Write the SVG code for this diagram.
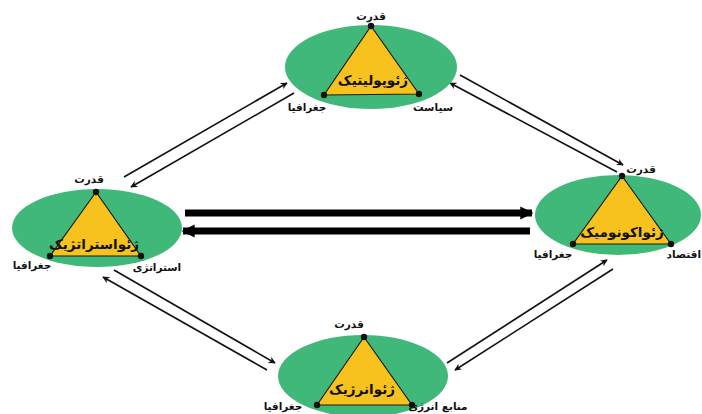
<svg xmlns="http://www.w3.org/2000/svg" width="702" height="414" viewBox="0 0 702 414">
<defs>
<style>
.ell{fill:#3fb87a}
.tri{fill:#f7c21e;stroke:#1a1a1a;stroke-width:1.2;stroke-linejoin:round}
.dot{fill:#111}
.title{font-family:"DejaVu Sans","Noto Sans",sans-serif;font-weight:bold;font-size:13.5px;fill:#111;text-anchor:middle}
.lbl{font-family:"DejaVu Sans","Noto Sans",sans-serif;font-weight:bold;font-size:10.5px;fill:#111;text-anchor:middle}
.thin{stroke:#111;stroke-width:1.6;fill:none;marker-end:url(#ah)}
.thick{stroke:#000;stroke-width:7;fill:none;marker-end:url(#ahb)}
</style>
<marker id="ah" viewBox="0 0 10 10" refX="9" refY="5" markerWidth="7" markerHeight="7" markerUnits="userSpaceOnUse" orient="auto"><path d="M0,0 L10,5 L0,10 L3,5 Z" fill="#111"/></marker>
<marker id="ahb" viewBox="0 0 10 10" refX="9" refY="5" markerWidth="13" markerHeight="14" markerUnits="userSpaceOnUse" orient="auto"><path d="M0,0 L10,5 L0,10 Z" fill="#000"/></marker>
</defs>
<rect width="702" height="414" fill="#fff"/>
<g id="connectors">
<line class="thin" x1="124" y1="177" x2="287" y2="83"/>
<line class="thin" x1="294" y1="93" x2="131" y2="187"/>
<line class="thin" x1="460" y1="75" x2="623" y2="165"/>
<line class="thin" x1="617" y1="172" x2="450" y2="83"/>
<line class="thick" x1="185" y1="213" x2="532" y2="213"/>
<line class="thick" x1="530" y1="231" x2="183" y2="231"/>
<line class="thin" x1="114" y1="270" x2="275" y2="363"/>
<line class="thin" x1="267" y1="370" x2="103" y2="277"/>
<line class="thin" x1="447" y1="363" x2="607" y2="260"/>
<line class="thin" x1="613" y1="269" x2="455" y2="370"/>
</g>
<g id="geopolitics">
<ellipse class="ell" cx="371" cy="67" rx="86" ry="42"/>
<polygon class="tri" points="371,26 324,95 419,94"/>
<circle class="dot" cx="371" cy="26" r="3.2"/><circle class="dot" cx="324" cy="95" r="3.2"/><circle class="dot" cx="419" cy="94" r="3.2"/>
<text class="title" x="373" y="85">ژئوپولیتیک</text>
<text class="lbl" x="371" y="20">قدرت</text>
<text class="lbl" x="307" y="111">جغرافیا</text>
<text class="lbl" x="433" y="111">سیاست</text>
</g>
<g id="geostrategy">
<ellipse class="ell" cx="97" cy="228" rx="85" ry="39"/>
<polygon class="tri" points="96,192 50,256 141,256"/>
<circle class="dot" cx="96" cy="192" r="3.2"/><circle class="dot" cx="50" cy="256" r="3.2"/><circle class="dot" cx="141" cy="256" r="3.2"/>
<text class="title" x="94" y="249">ژئواستراتژیک</text>
<text class="lbl" x="89" y="183">قدرت</text>
<text class="lbl" x="32" y="269">جغرافیا</text>
<text class="lbl" x="157" y="271">استراتژی</text>
</g>
<g id="geoeconomics">
<ellipse class="ell" cx="618" cy="215" rx="83" ry="40"/>
<polygon class="tri" points="622,176 573,244 671,244"/>
<circle class="dot" cx="622" cy="176" r="3.2"/><circle class="dot" cx="573" cy="244" r="3.2"/><circle class="dot" cx="671" cy="244" r="3.2"/>
<text class="title" x="622" y="237">ژئواکونومیک</text>
<text class="lbl" x="641" y="173">قدرت</text>
<text class="lbl" x="553" y="258">جغرافیا</text>
<text class="lbl" x="701" y="258" style="text-anchor:end">اقتصاد</text>
</g>
<g id="geoenergy">
<ellipse class="ell" cx="363" cy="376" rx="85" ry="41"/>
<polygon class="tri" points="364,337 317,405 412,405"/>
<circle class="dot" cx="364" cy="337" r="3.2"/><circle class="dot" cx="317" cy="405" r="3.2"/><circle class="dot" cx="412" cy="405" r="3.2"/>
<text class="title" x="362" y="394">ژئوانرژیک</text>
<text class="lbl" x="349" y="328">قدرت</text>
<text class="lbl" x="283" y="410">جغرافیا</text>
<text class="lbl" x="438" y="410">منابع انرژی</text>
</g>
</svg>
